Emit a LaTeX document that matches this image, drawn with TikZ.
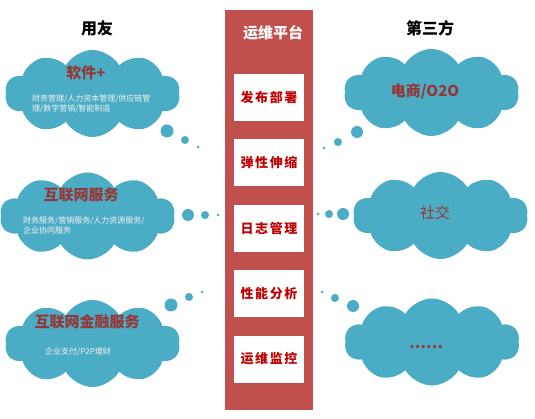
\documentclass[tikz,border=0pt]{standalone}
\usepackage{fontspec}
\setmainfont{Noto Sans CJK SC}
\usetikzlibrary{positioning, shapes.symbols}
\definecolor{OpsRed}{HTML}{C0504D}
\definecolor{CloudBlue}{HTML}{4BACC6}
\definecolor{TitleRed}{HTML}{953735}
\definecolor{BoxRed}{HTML}{C00000}
\definecolor{SubWhite}{HTML}{F2F2F2}

\begin{document}
\begin{tikzpicture}[
    x=1pt, y=-1pt,
    node distance=18pt,
    thought/.style={
        cloud, cloud puffs=10, cloud puff arc=120, aspect=2,
        fill=CloudBlue, draw=none, inner sep=0pt,
        minimum width=175pt, minimum height=87pt
    },
    task/.style={
        rectangle, fill=white, minimum width=70pt, minimum height=47pt,
        text=BoxRed, font=\bfseries\fontsize{13}{15}\selectfont\addfontfeature{LetterSpace=12}
    },
    head/.style={font=\bfseries\fontsize{16}{18}\selectfont, text=black},
    ctitle/.style={font=\bfseries\fontsize{15}{17}\selectfont, text=TitleRed},
    csub/.style={font=\fontsize{8}{10}\selectfont, text=SubWhite, align=left, anchor=west, inner sep=0pt},
    bubble/.style={fill=CloudBlue}
]
\useasboundingbox (0,0) rectangle (535,419);

% platform column
\node[rectangle, fill=OpsRed, minimum width=88pt, minimum height=400pt] (ops) at (269,210) {};
\node[font=\bfseries\fontsize{15}{17}\selectfont, text=white] (opstitle) at (273,33) {运维平台};

\node[task] (deploy) at (269,97.5) {发布部署};
\node[task, below=of deploy] (scale) {弹性伸缩};
\node[task, below=of scale] (logs) {日志管理};
\node[task, below=of logs] (perf) {性能分析};
\node[task, below=of perf] (monitor) {运维监控};

% headings
\node[head] (yonyou) at (97,28) {用友};
\node[head] (third) at (430,28) {第三方};

% left clouds
\node[thought] (soft) at (92.5,93.5) {};
\node[ctitle] (softt) at (86,73) {软件+};
\node[csub] (softs) at (32,103.5) {财务管理/人力资本管理/供应链管\\理/数字营销/智能制造};
\fill[bubble] (167,131) circle (6.5) (185,140) circle (4) (198,147) circle (1.5);

\node[thought] (net) at (87.5,216) {};
\node[ctitle] (nett) at (81,195) {互联网服务};
\node[csub] (nets) at (23,225) {财务服务/营销服务/人力资源服务/\\企业协同服务};
\fill[bubble] (188,215) circle (6) (205,215) circle (4) (218,215) circle (1.5);

\node[thought] (fin) at (92.5,343.5) {};
\node[ctitle] (fint) at (87,322) {互联网金融服务};
\node[csub, anchor=center] (fins) at (78,352) {企业支付/P2P理财};
\fill[bubble] (171,305) circle (6.5) (189,297) circle (4) (202,292) circle (1.5);

% right clouds
\node[thought] (shop) at (431.5,92.5) {};
\node[ctitle] (shopt) at (425,91) {电商/O2O};
\fill[bubble] (357,132) circle (6) (338,142) circle (4) (324,148) circle (1.5);

\node[thought] (social) at (440.5,215.5) {};
\node[ctitle, font=\fontsize{15}{17}\selectfont] (socialt) at (435,213) {社交};
\fill[bubble] (343,214) circle (6) (329,214) circle (4) (318,214) circle (1.5);

\node[thought] (more) at (432,342) {};
\node[ctitle] (moret) at (426,347) {……};
\fill[bubble] (353,306) circle (6) (335,298) circle (4) (322,292) circle (1.5);

\end{tikzpicture}
\end{document}
